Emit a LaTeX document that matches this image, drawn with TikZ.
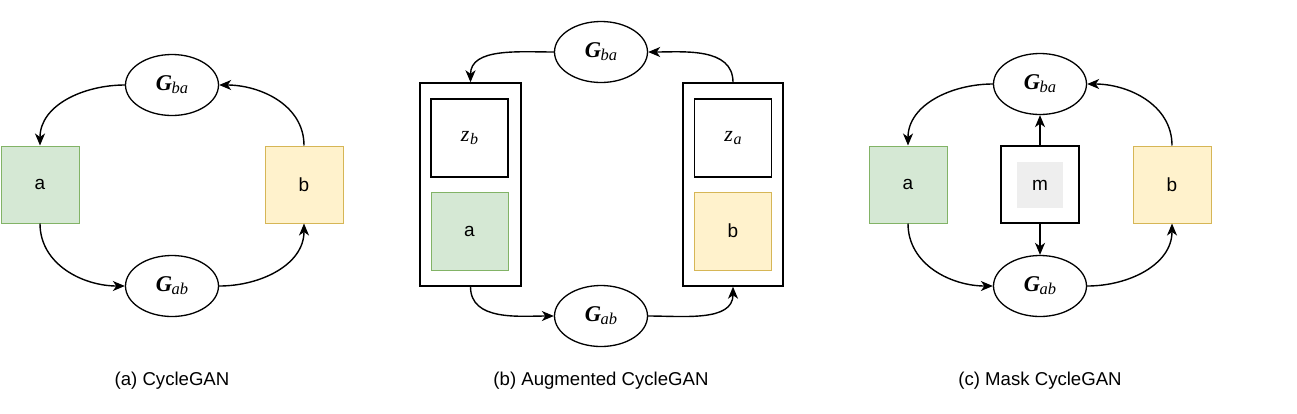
\documentclass[tikz,border=0pt]{standalone}
\usepackage{fontspec}
\setmainfont{Liberation Sans}
\newfontfamily\tnr{Liberation Serif}
\usetikzlibrary{arrows.meta,shapes.geometric}
\definecolor{gfill}{HTML}{D5E8D4}
\definecolor{gline}{HTML}{82B366}
\definecolor{yfill}{HTML}{FFF2CC}
\definecolor{yline}{HTML}{D6B656}
\definecolor{mfill}{HTML}{EEEEEE}
\newcommand{\Glab}[1]{{\tnr\fontsize{22.5}{22.5}\selectfont\bfseries\itshape G}\kern-0.5pt\raisebox{-3pt}{\tnr\fontsize{16.5}{16.5}\selectfont\itshape #1}}
\newcommand{\Zlab}[1]{{\tnr\fontsize{22}{22}\selectfont\itshape z}\kern0.5pt\raisebox{-3pt}{\tnr\fontsize{16}{16}\selectfont\itshape #1}}
\begin{document}
\begin{tikzpicture}[x=1pt,y=1pt,
  gen/.style={ellipse,draw=black,line width=1.3pt,minimum width=93pt,minimum height=61pt,inner sep=0pt},
  abox/.style={rectangle,draw=gline,fill=gfill,line width=1pt,minimum width=78pt,minimum height=77pt,inner sep=0pt,font=\fontsize{19}{19}\selectfont},
  bbox/.style={rectangle,draw=yline,fill=yfill,line width=1pt,minimum width=78pt,minimum height=77pt,inner sep=0pt,font=\fontsize{19}{19}\selectfont},
  zbox/.style={rectangle,draw=black,line width=1.4pt,minimum width=77pt,minimum height=78pt,inner sep=0pt},
  outer/.style={rectangle,draw=black,line width=1.4pt,minimum width=101pt,minimum height=203pt,inner sep=0pt},
  mbox/.style={rectangle,draw=black,line width=1.4pt,minimum width=78pt,minimum height=77pt,inner sep=0pt},
  minner/.style={rectangle,fill=mfill,minimum width=46pt,minimum height=46pt,inner sep=0pt,font=\fontsize{19}{19}\selectfont},
  captxt/.style={font=\fontsize{18.6}{18.6}\selectfont,inner sep=0pt},
  conn/.style={line width=1.4pt,-{Stealth[length=12pt,width=10pt,inset=3.5pt]}}
]
\useasboundingbox (0,0) rectangle (1297,-413);
\fill[white] (0,0) rectangle (1297,-413);

% ---------- (a) CycleGAN ----------
\node[gen] (Gba1) at (172,-85) {\Glab{ba}};
\node[gen] (Gab1) at (172,-286) {\Glab{ab}};
\node[abox] (a1) at (40,-184.5) {a};
\node[bbox] (b1) at (304,-184.5) {b};
\draw[conn] (Gba1.west) to[out=180,in=90] (a1.north);
\draw[conn] (b1.north) to[out=90,in=0] (Gba1.east);
\draw[conn] (a1.south) to[out=-90,in=180] (Gab1.west);
\draw[conn] (Gab1.east) to[out=0,in=-90] (b1.south);
\node[captxt] (capa) at (172,-381) {(a) CycleGAN};

% ---------- (b) Augmented CycleGAN ----------
\node[gen] (Gba2) at (601,-52) {\Glab{ba}};
\node[gen] (Gab2) at (601,-316) {\Glab{ab}};
\node[outer] (L2) at (470.5,-184.5) {};
\node[zbox] (zb) at (469.5,-138) {\Zlab{b}};
\node[abox,minimum width=77pt,minimum height=78pt] (a2) at (469.5,-231) {a};
\node[outer,minimum width=100pt] (R2) at (733,-184.5) {};
\node[zbox] (za) at (733,-138) {\Zlab{a}};
\node[bbox,minimum width=77pt,minimum height=78pt] (b2) at (733,-231) {b};
\draw[conn] (Gba2.west) to[out=180,in=90] (L2.north);
\draw[conn] (R2.north) to[out=90,in=0] (Gba2.east);
\draw[conn] (L2.south) to[out=-90,in=180] (Gab2.west);
\draw[conn] (Gab2.east) to[out=0,in=-90] (R2.south);
\node[captxt] (capb) at (601,-381) {(b) Augmented CycleGAN};

% ---------- (c) Mask CycleGAN ----------
\node[gen] (Gba3) at (1040,-84) {\Glab{ba}};
\node[gen] (Gab3) at (1040,-286) {\Glab{ab}};
\node[abox] (a3) at (908,-184.5) {a};
\node[mbox] (m3) at (1040,-184.5) {};
\node[minner] (mi) at (1040,-185) {m};
\node[bbox] (b3) at (1172,-184.5) {b};
\draw[conn] (Gba3.west) to[out=180,in=90] (a3.north);
\draw[conn] (b3.north) to[out=90,in=0] (Gba3.east);
\draw[conn] (a3.south) to[out=-90,in=180] (Gab3.west);
\draw[conn] (Gab3.east) to[out=0,in=-90] (b3.south);
\draw[conn] (m3.north) -- (Gba3.south);
\draw[conn] (m3.south) -- (Gab3.north);
\node[captxt] (capc) at (1040,-381) {(c) Mask CycleGAN};
\end{tikzpicture}
\end{document}
